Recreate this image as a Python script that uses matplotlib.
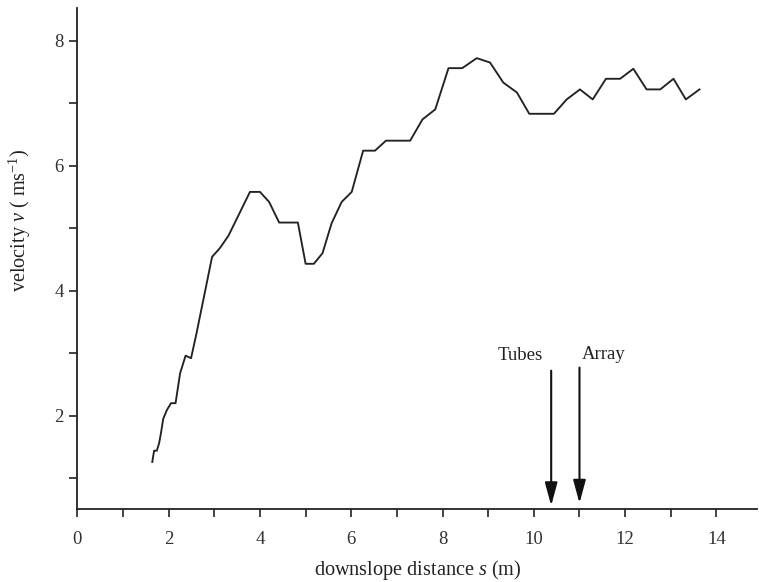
import numpy as np
import matplotlib
matplotlib.use("Agg")
import matplotlib.pyplot as plt
from matplotlib.ticker import MultipleLocator

plt.rcParams['font.family'] = ['Liberation Serif', 'DejaVu Serif']
plt.rcParams['mathtext.fontset'] = 'custom'
plt.rcParams['mathtext.rm'] = 'Liberation Serif'
plt.rcParams['mathtext.it'] = 'Liberation Serif:italic'

# downslope distance (m) and front velocity (m/s)
distance = [1.64, 1.68, 1.74, 1.79, 1.83, 1.88, 1.96, 2.05, 2.15, 2.25,
            2.37, 2.49, 2.61, 2.95, 3.12, 3.31, 3.78, 4.00, 4.20, 4.42,
            4.83, 5.00, 5.18, 5.37, 5.57, 5.79, 6.01, 6.26, 6.52, 6.76,
            7.29, 7.56, 7.84, 8.13, 8.43, 8.75, 9.04, 9.33, 9.63, 9.90,
            10.44, 10.72, 11.01, 11.29, 11.58, 11.89, 12.18, 12.47, 12.77,
            13.06, 13.33, 13.63]
velocity = [1.26, 1.44, 1.44, 1.56, 1.72, 1.95, 2.09, 2.20, 2.20, 2.68,
            2.96, 2.92, 3.32, 4.54, 4.68, 4.88, 5.58, 5.58, 5.42, 5.09,
            5.09, 4.43, 4.43, 4.60, 5.08, 5.42, 5.58, 6.24, 6.24, 6.40,
            6.40, 6.74, 6.90, 7.56, 7.56, 7.72, 7.65, 7.33, 7.17, 6.83,
            6.83, 7.06, 7.22, 7.06, 7.39, 7.39, 7.55, 7.22, 7.22, 7.39,
            7.06, 7.22]

# instrument locations
marker_names = ["Tubes", "Array"]
marker_x = [10.38, 11.0]
marker_top = [2.72, 2.77]
marker_tip = [0.56, 0.60]
label_x = [9.70, 11.52]
label_y = [2.97, 2.98]

fig = plt.figure(figsize=(7.59, 5.82), dpi=100)
ax = fig.add_axes([0.102, 0.1254, 0.896, 0.8606])

ax.plot(distance, velocity, color='#222222', lw=1.35)

for name, xm, yt, yb, lx, ly in zip(marker_names, marker_x, marker_top,
                                    marker_tip, label_x, label_y):
    ax.annotate('', xy=(xm, yb), xytext=(xm, yt),
                arrowprops=dict(arrowstyle='-|>,head_length=1.4,head_width=0.38',
                                color='#111111', lw=1.5, shrinkA=0, shrinkB=0))
    ax.text(lx, ly, name, ha='center', va='center', fontsize=13.5,
            color='#222222')

ax.set_xlim(0, 14.9)
ax.set_ylim(0.507, 8.52)
ax.xaxis.set_major_locator(MultipleLocator(2))
ax.xaxis.set_minor_locator(MultipleLocator(1))
ax.yaxis.set_major_locator(MultipleLocator(2))
ax.yaxis.set_minor_locator(MultipleLocator(1))

for side in ['top', 'right']:
    ax.spines[side].set_visible(False)
for side in ['left', 'bottom']:
    ax.spines[side].set_linewidth(1.3)
    ax.spines[side].set_color('#222222')

ax.tick_params(which='both', direction='out', length=6, width=1.2,
               color='#222222', labelsize=13.5, labelcolor='#333333')
ax.tick_params(axis='x', pad=10)
ax.tick_params(axis='y', pad=4)

ax.set_xlabel('downslope distance $s$ (m)', fontsize=14.6, color='#222222',
              labelpad=7)
ax.set_ylabel('velocity $v$ ( ms$^{\\mathrm{-1}}$)', fontsize=14.6,
              color='#222222')
ax.yaxis.set_label_coords(-0.066, 0.577)

fig.savefig('out.png', dpi=100)
